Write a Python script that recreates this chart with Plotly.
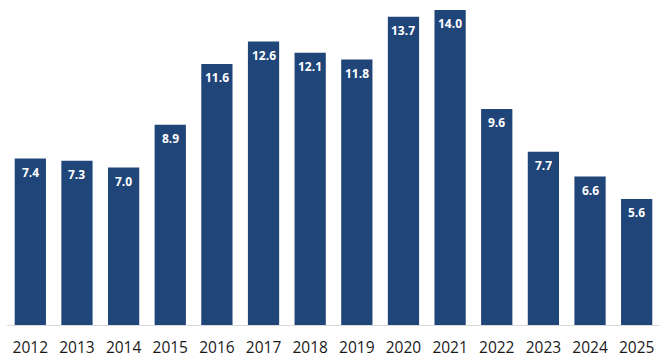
import plotly.graph_objects as go

years = ["2012", "2013", "2014", "2015", "2016", "2017", "2018", "2019",
         "2020", "2021", "2022", "2023", "2024", "2025"]
values = [7.4, 7.3, 7.0, 8.9, 11.6, 12.6, 12.1, 11.8, 13.7, 14.0, 9.6, 7.7, 6.6, 5.6]

bar_color = "#1F4579"

fig = go.Figure(go.Bar(x=years, y=values, marker_color=bar_color,
                       marker_line_width=0, width=0.67, hoverinfo="x+y"))

for i, v in enumerate(values):
    fig.add_annotation(x=i, y=v, text=f"<b>{v:.1f}</b>", showarrow=False,
                       yanchor="middle", yshift=-13.5,
                       font=dict(color="white", size=12, family="Open Sans"))

fig.update_layout(
    width=661, height=362,
    margin=dict(l=7, r=1, t=0, b=37),
    paper_bgcolor="white", plot_bgcolor="white",
    showlegend=False,
    xaxis=dict(type="category", showgrid=False, showline=True,
               range=[-0.5, 13.5], automargin=False,
               linecolor="#D9D9D9", linewidth=1, ticks="",
               ticklabelstandoff=8,
               tickfont=dict(size=15.5, color="#1a1a1a", family="Open Sans")),
    yaxis=dict(range=[0, 14.45], visible=False, showgrid=False, zeroline=False),
)

fig.write_html("out.html", config={"displayModeBar": False},
               post_script="document.body.style.margin='0';")
